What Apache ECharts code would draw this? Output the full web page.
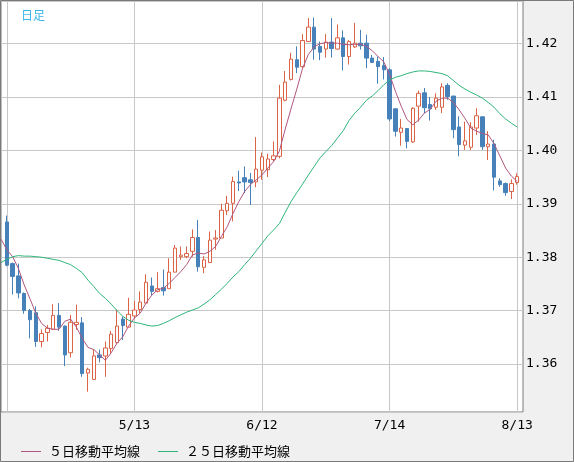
<!DOCTYPE html>
<html>
<head>
<meta charset="utf-8">
<title>日足</title>
<script src="https://cdn.jsdelivr.net/npm/echarts@6/dist/echarts.min.js"></script>
<style>
  html, body { margin: 0; padding: 0; background: #f0f0f0; }
  #chart { width: 574px; height: 462px; }
</style>
</head>
<body>
<div id="chart"></div>
<script>
// 日付 (4/10 は移動平均のみ、最後は空き)
var dates = [
  '4/10','4/13','4/14','4/15','4/16','4/17','4/20','4/21','4/22','4/23','4/24','4/27','4/28','4/29','4/30',
  '5/1','5/4','5/5','5/6','5/7','5/8','5/11','5/12','5/13','5/14','5/15','5/18','5/19','5/20','5/21','5/22',
  '5/25','5/26','5/27','5/28','5/29',
  '6/1','6/2','6/3','6/4','6/5','6/8','6/9','6/10','6/11','6/12','6/15','6/16','6/17','6/18','6/19',
  '6/22','6/23','6/24','6/25','6/26','6/29','6/30',
  '7/1','7/2','7/3','7/6','7/7','7/8','7/9','7/10','7/13','7/14','7/15','7/16','7/17',
  '7/20','7/21','7/22','7/23','7/24','7/27','7/28','7/29','7/30','7/31',
  '8/3','8/4','8/5','8/6','8/7','8/10','8/11','8/12','8/13',''
];
var labelDates = ['5/13','6/12','7/14','8/13'];
var gridDates = ['4/13','5/13','6/12','7/14','8/13'];

// 四本値 (4/13 〜 8/13)
var opens = [
  1.3866,1.3788,1.3765,1.3732,1.3700,1.3696,1.3642,1.3659,1.3665,1.3691,
  1.3671,1.3621,1.3674,1.3677,1.3583,1.3571,1.3617,1.3615,1.3629,1.3640,
  1.3684,1.3669,1.3690,1.3702,1.3714,1.3746,1.3736,1.3743,1.3741,1.3772,
  1.3801,1.3801,1.3811,1.3837,1.3781,1.3790,1.3834,1.3836,1.3887,1.3901,
  1.3941,1.3949,1.3945,1.3941,1.3963,1.3964,1.3983,1.3989,1.4094,1.4133,
  1.4170,1.4157,1.4204,1.4231,1.4195,1.4190,1.4203,1.4190,1.4211,1.4176,
  1.4194,1.4201,1.4201,1.4173,1.4167,1.4159,1.4151,1.4078,1.4034,1.4041,
  1.4016,1.4083,1.4108,1.4086,1.4081,1.4081,1.4122,1.4102,1.4044,1.4010,
  1.4006,1.4042,1.4063,1.4007,1.4012,1.3943,1.3938,1.3923,1.3940
];
var closes = [
  1.3785,1.3764,1.3733,1.3700,1.3683,1.3642,1.3657,1.3667,1.3691,1.3669,
  1.3617,1.3678,1.3678,1.3582,1.3590,1.3615,1.3612,1.3630,1.3656,1.3671,
  1.3672,1.3693,1.3701,1.3716,1.3753,1.3736,1.3741,1.3737,1.3772,1.3817,
  1.3804,1.3807,1.3837,1.3782,1.3795,1.3832,1.3836,1.3888,1.3901,1.3942,
  1.3939,1.3941,1.3940,1.3965,1.3988,1.3984,1.3990,1.4098,1.4128,1.4171,
  1.4156,1.4206,1.4231,1.4190,1.4184,1.4203,1.4191,1.4211,1.4176,1.4204,
  1.4201,1.4196,1.4173,1.4165,1.4157,1.4151,1.4059,1.4036,1.4042,1.4017,
  1.4079,1.4107,1.4080,1.4078,1.4098,1.4119,1.4101,1.4039,1.4011,1.4018,
  1.4044,1.4065,1.4007,1.4012,1.3950,1.3936,1.3921,1.3938,1.3951
];
var lows = [
  1.3783,1.3730,1.3723,1.3694,1.3648,1.3632,1.3631,1.3642,1.3664,1.3662,
  1.3596,1.3612,1.3664,1.3576,1.3548,1.3571,1.3603,1.3576,1.3618,1.3638,
  1.3645,1.3669,1.3685,1.3695,1.3714,1.3729,1.3734,1.3728,1.3741,1.3772,
  1.3795,1.3798,1.3801,1.3773,1.3770,1.3789,1.3814,1.3836,1.3879,1.3867,
  1.3924,1.3920,1.3898,1.3931,1.3945,1.3950,1.3979,1.3985,1.4092,1.4131,
  1.4145,1.4154,1.4203,1.4170,1.4169,1.4174,1.4174,1.4189,1.4150,1.4161,
  1.4192,1.4189,1.4154,1.4164,1.4125,1.4133,1.4055,1.4026,1.4009,1.4004,
  1.4014,1.4054,1.4070,1.4056,1.4076,1.4070,1.4095,1.4023,1.3989,1.4001,
  1.4001,1.4029,1.4001,1.3982,1.3925,1.3932,1.3915,1.3909,1.3936
];
var highs = [
  1.3878,1.3790,1.3788,1.3734,1.3703,1.3708,1.3665,1.3673,1.3712,1.3714,
  1.3672,1.3692,1.3711,1.3688,1.3593,1.3627,1.3627,1.3642,1.3662,1.3702,
  1.3689,1.3724,1.3718,1.3736,1.3768,1.3762,1.3772,1.3777,1.3798,1.3823,
  1.3820,1.3820,1.3852,1.3870,1.3802,1.3848,1.3851,1.3900,1.3915,1.3951,
  1.3962,1.3970,1.3958,1.4025,1.3996,1.3994,1.4017,1.4123,1.4149,1.4183,
  1.4195,1.4218,1.4248,1.4249,1.4204,1.4218,1.4248,1.4236,1.4225,1.4207,
  1.4239,1.4226,1.4217,1.4179,1.4176,1.4175,1.4154,1.4079,1.4059,1.4042,
  1.4081,1.4112,1.4117,1.4100,1.4107,1.4126,1.4126,1.4102,1.4064,1.4054,
  1.4053,1.4079,1.4064,1.4036,1.4020,1.3948,1.3940,1.3946,1.3957
];

// 移動平均 (4/10 〜 8/13)
var ma5 = [
  1.3834,
  1.3814,1.3801,1.3779,1.3748,1.3722,1.3695,1.3676,1.3667,1.3665,1.3665,
  1.3680,1.3684,1.3669,1.3648,1.3631,1.3627,1.3617,1.3607,1.3621,1.3639,
  1.3651,1.3671,1.3686,1.3695,1.3714,1.3729,1.3739,1.3742,1.3751,1.3762,
  1.3773,1.3786,1.3804,1.3808,1.3806,1.3811,1.3820,1.3839,1.3857,1.3882,
  1.3904,1.3923,1.3936,1.3945,1.3954,1.3967,1.3979,1.3999,1.4040,1.4078,
  1.4115,1.4154,1.4180,1.4194,1.4200,1.4202,1.4201,1.4201,1.4199,1.4198,
  1.4199,1.4199,1.4195,1.4187,1.4176,1.4166,1.4142,1.4111,1.4083,1.4058,
  1.4048,1.4057,1.4070,1.4077,1.4092,1.4098,1.4098,1.4090,1.4076,1.4060,
  1.4042,1.4036,1.4032,1.4029,1.4013,1.3990,1.3967,1.3952,1.3942
];
var ma25 = [
  1.3790,
  1.3796,1.3801,1.3803,1.3802,1.3802,1.3801,1.3800,1.3798,1.3796,1.3794,
  1.3790,1.3786,1.3779,1.3771,1.3757,1.3745,1.3732,1.3723,1.3712,1.3700,
  1.3689,1.3682,1.3678,1.3676,1.3673,1.3671,1.3672,1.3676,1.3681,1.3687,
  1.3692,1.3697,1.3701,1.3705,1.3712,1.3720,1.3730,1.3740,1.3751,1.3763,
  1.3773,1.3786,1.3798,1.3812,1.3826,1.3840,1.3851,1.3863,1.3884,1.3904,
  1.3921,1.3937,1.3954,1.3970,1.3986,1.3998,1.4009,1.4023,1.4037,1.4056,
  1.4070,1.4081,1.4094,1.4102,1.4112,1.4123,1.4132,1.4137,1.4140,1.4144,
  1.4147,1.4149,1.4149,1.4148,1.4146,1.4144,1.4140,1.4131,1.4122,1.4115,
  1.4109,1.4104,1.4098,1.4090,1.4081,1.4069,1.4059,1.4051,1.4044
];

var upColor = '#dc6446';
var downColor = '#4682b9';
var ma5Color = '#b0567f';
var ma25Color = '#2fb57a';
var monoFont = '"DejaVu Sans Mono", "Liberation Mono", monospace';
var jpFont = '"Noto Sans CJK JP", sans-serif';

// candlestick は [open, close, low, high]
var candles = ['-'];
for (var i = 0; i < opens.length; i++) {
  candles.push([opens[i], closes[i], lows[i], highs[i]]);
}
candles.push('-');

var chart = echarts.init(document.getElementById('chart'));
chart.setOption({
  animation: false,
  backgroundColor: '#f0f0f0',
  title: {
    text: '日足',
    left: 16, top: 4,
    textStyle: { color: '#38b6e8', fontSize: 12, fontWeight: 'normal', fontFamily: jpFont }
  },
  legend: {
    data: ['５日移動平均線', '２５日移動平均線'],
    left: 16, top: 440,
    icon: 'rect',
    itemWidth: 20, itemHeight: 1,
    itemGap: 18,
    textStyle: { color: '#000', fontSize: 13, fontFamily: jpFont, padding: [0, 0, 0, 3] }
  },
  grid: {
    left: 1, top: 1, right: 51, bottom: 50,
    show: true,
    backgroundColor: '#fff',
    borderColor: '#7a7a7a', borderWidth: 1
  },
  graphic: [{
    type: 'rect', silent: true, z: 100,
    shape: { x: 0.5, y: 0.5, width: 573, height: 461 },
    style: { fill: null, stroke: '#7a7a7a', lineWidth: 1 }
  }],
  xAxis: {
    type: 'category',
    data: dates,
    boundaryGap: false,
    axisLine: { show: false },
    axisTick: { show: false },
    axisLabel: {
      interval: function(idx, val) { return labelDates.indexOf(val) >= 0; },
      margin: 7,
      color: '#000', fontSize: 13, fontFamily: monoFont
    },
    splitLine: {
      show: true,
      interval: function(idx, val) { return gridDates.indexOf(val) >= 0; },
      lineStyle: { color: '#c8c8c8', width: 1 }
    }
  },
  yAxis: {
    type: 'value',
    position: 'right',
    min: 1.351, max: 1.428,
    splitNumber: 8,
    axisLine: { show: false },
    axisTick: { show: false },
    axisLabel: {
      margin: 3,
      showMinLabel: false, showMaxLabel: false,
      color: '#000', fontSize: 13, fontFamily: monoFont,
      formatter: function(v) { return v.toFixed(2); }
    },
    splitLine: { lineStyle: { color: '#c8c8c8', width: 1 } }
  },
  series: [
    {
      name: '日足',
      type: 'candlestick',
      data: candles,
      barWidth: 4,
      itemStyle: {
        color: '#ffffff', color0: downColor,
        borderColor: upColor, borderColor0: downColor,
        borderWidth: 1
      }
    },
    {
      name: '５日移動平均線',
      type: 'line',
      data: ma5,
      symbol: 'none',
      color: ma5Color,
      lineStyle: { color: ma5Color, width: 1 },
      z: 3
    },
    {
      name: '２５日移動平均線',
      type: 'line',
      data: ma25,
      symbol: 'none',
      color: ma25Color,
      lineStyle: { color: ma25Color, width: 1 },
      z: 3
    }
  ]
});
</script>
</body>
</html>
